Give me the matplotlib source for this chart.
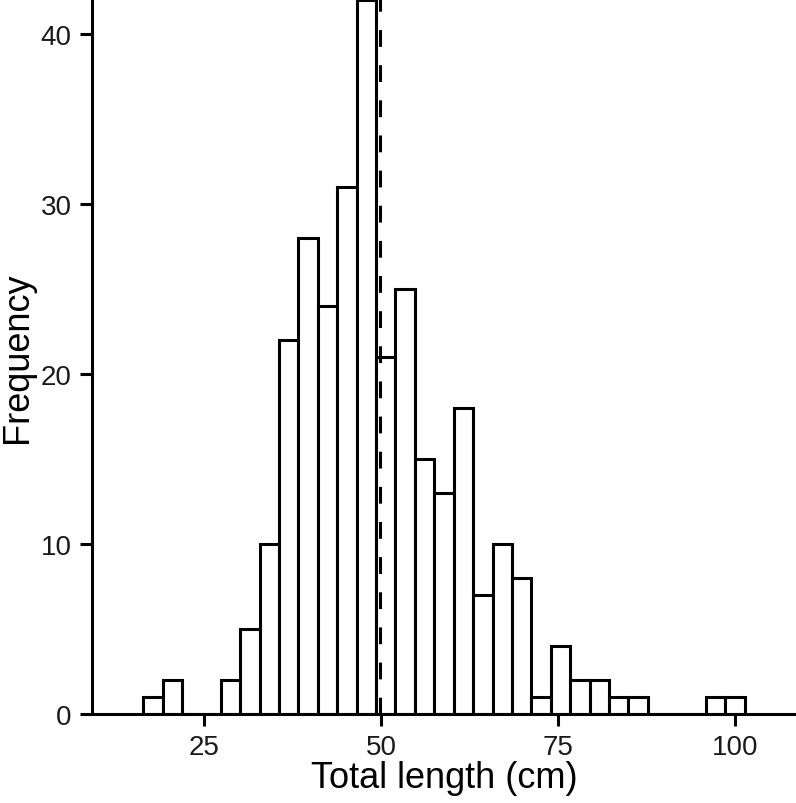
import matplotlib
matplotlib.use("Agg")
import matplotlib.pyplot as plt
import numpy as np

plt.rcParams['font.family'] = ['Liberation Sans', 'DejaVu Sans']

# histogram bins
bin_start = 16.43
bin_width = 2.74
counts = [1, 2, 0, 0, 2, 5, 10, 22, 28, 24, 31, 42, 21, 25, 15, 13,
          18, 7, 10, 8, 1, 4, 2, 2, 1, 1, 0, 0, 0, 1, 1]
mean_length = 49.9

x_ticks = [25, 50, 75, 100]
y_ticks = [0, 10, 20, 30, 40]

edges = bin_start + bin_width * np.arange(len(counts) + 1)

fig = plt.figure(figsize=(7.96, 8.04), dpi=100)
ax = fig.add_axes([92 / 796, 89 / 804, 1 - 92 / 796, 1 - 89 / 804])

lw = 2.2
ax.bar(edges[:-1], counts, width=bin_width, align='edge',
       color='white', edgecolor='black', linewidth=lw, zorder=2)
ax.axvline(mean_length, color='black', linestyle=(0, (5.5, 6.0)),
           linewidth=lw, zorder=3)

ax.set_xlim(9.2, 108.6)
ax.set_ylim(0, 42.06)
ax.set_xticks(x_ticks)
ax.set_yticks(y_ticks)

for side in ['top', 'right']:
    ax.spines[side].set_visible(False)
for side in ['left', 'bottom']:
    ax.spines[side].set_linewidth(lw)
    ax.spines[side].set_zorder(4)

ax.tick_params(direction='out', length=8.5, width=lw, labelsize=20,
               pad=6, color='black', labelcolor='#1a1a1a')

ax.set_xlabel('Total length (cm)', fontsize=26, labelpad=0)
ax.set_ylabel('Frequency', fontsize=26, labelpad=4)

fig.savefig('out.png', dpi=100)
